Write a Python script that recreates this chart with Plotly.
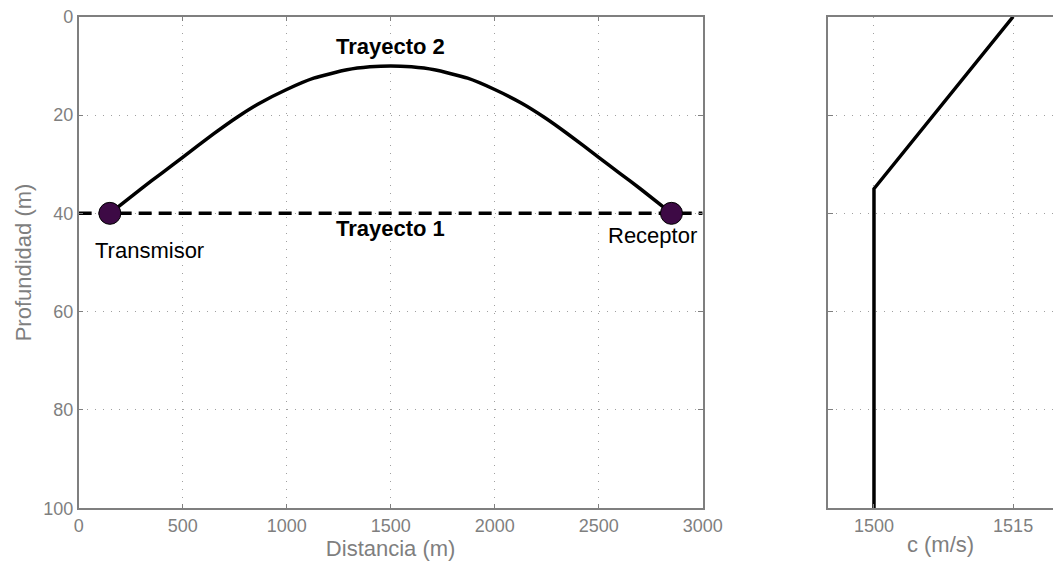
import plotly.graph_objects as go

# Ray path 2 (refracted) : distance (m) and depth (m)
ray2_x = [150, 300, 400, 500, 650, 760, 870, 1000, 1130, 1290, 1400, 1500,
          1600, 1710, 1870, 2000, 2130, 2240, 2350, 2500, 2600, 2700, 2850]
ray2_d = [40, 35.0, 31.8, 28.6, 23.8, 20.5, 17.6, 14.8, 12.5, 10.8, 10.2, 10,
          10.2, 10.8, 12.5, 14.8, 17.6, 20.5, 23.8, 28.6, 31.8, 35.0, 40]
# Ray path 1 (direct)
ray1_x = [0, 3000]
ray1_d = [40, 40]
# Transmitter / receiver
tx_x, tx_d = [150], [40]
rx_x, rx_d = [2850], [40]
# Sound speed profile
ssp_c = [1515, 1500, 1500]
ssp_d = [0, 35, 100]

GRAY = "#7f7f7f"
FONT = "Liberation Sans, Arial, sans-serif"

fig = go.Figure()
fig.add_trace(go.Scatter(x=ray1_x, y=ray1_d, mode="lines",
                         line=dict(color="black", width=3.5, dash="13px,7px"),
                         xaxis="x", yaxis="y", showlegend=False))
fig.add_trace(go.Scatter(x=ray2_x, y=ray2_d, mode="lines",
                         line=dict(color="black", width=3.5, shape="spline", smoothing=0.5),
                         xaxis="x", yaxis="y", showlegend=False))
fig.add_trace(go.Scatter(x=tx_x + rx_x, y=tx_d + rx_d, mode="markers",
                         marker=dict(size=22, color="#3d0a45", line=dict(color="black", width=1)),
                         xaxis="x", yaxis="y", showlegend=False))
fig.add_trace(go.Scatter(x=ssp_c, y=ssp_d, mode="lines",
                         line=dict(color="black", width=3.5),
                         xaxis="x2", yaxis="y2", showlegend=False))

txt = dict(family=FONT, size=22, color="black")
fig.add_annotation(x=1500, y=6.0, text="<b>Trayecto 2</b>", showarrow=False,
                   xref="x", yref="y", font=txt)
fig.add_annotation(x=1500, y=43.0, text="<b>Trayecto 1</b>", showarrow=False,
                   xref="x", yref="y", font=txt)
fig.add_annotation(x=343, y=47.6, text="Transmisor", showarrow=False,
                   xref="x", yref="y", font=txt)
fig.add_annotation(x=2759, y=44.6, text="Receptor", showarrow=False,
                   xref="x", yref="y", font=txt)

axis_common = dict(showline=True, linecolor=GRAY, linewidth=1.5,
                   ticks="inside", ticklen=5, tickcolor=GRAY,
                   tickfont=dict(family=FONT, size=18, color=GRAY),
                   showgrid=True, gridcolor="#a0a0a0", griddash="1px,7px", gridwidth=1,
                   zeroline=False, automargin=False)
title_font = dict(family=FONT, size=22, color=GRAY)

fig.update_layout(
    width=1053, height=565,
    margin=dict(l=0, r=0, t=0, b=0),
    paper_bgcolor="white", plot_bgcolor="white",
    xaxis=dict(domain=[0.0747, 0.6673], range=[0, 3000],
               tickvals=[0, 500, 1000, 1500, 2000, 2500, 3000], mirror="ticks",
               title=dict(text="Distancia (m)", font=title_font, standoff=2),
               anchor="y", **axis_common),
    yaxis=dict(domain=[0.1004, 0.9704], range=[100, 0],
               tickvals=[0, 20, 40, 60, 80, 100], mirror="ticks",
               title=dict(text="Profundidad (m)", font=title_font, standoff=6),
               anchor="x", **axis_common),
    xaxis2=dict(domain=[0.7863, 1.0], range=[1495.04, 1519.3],
                tickvals=[1500, 1515], mirror=True,
                title=dict(text="c (m/s)", font=title_font, standoff=2),
                anchor="y2", **axis_common),
    yaxis2=dict(domain=[0.1004, 0.9704], range=[100, 0],
                tickvals=[0, 20, 40, 60, 80, 100], showticklabels=False,
                anchor="x2", mirror=False, **axis_common),
)

fig.write_html("out.html", config={"displayModeBar": False},
               post_script="document.body.style.margin='0';document.body.style.overflow='hidden';")
